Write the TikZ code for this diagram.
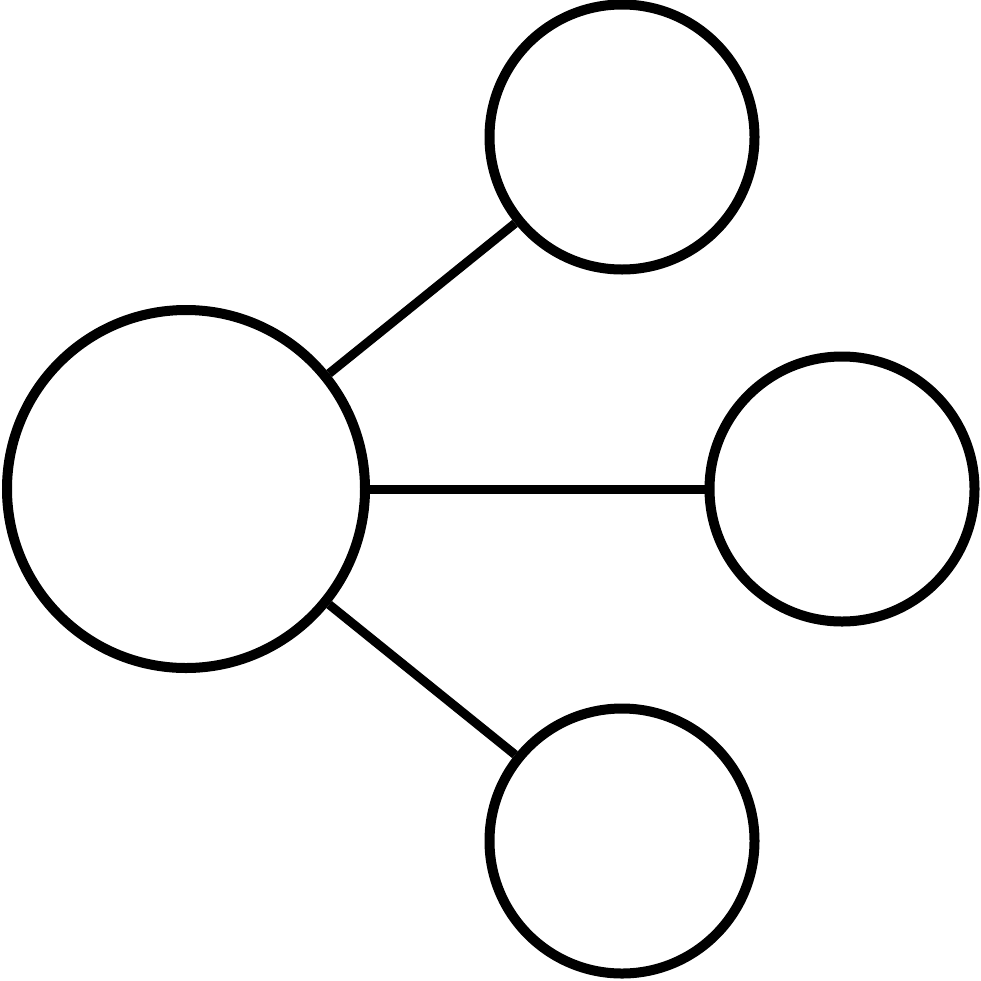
\documentclass[tikz,border=0pt]{standalone}
\begin{document}
\begin{tikzpicture}[x=1pt,y=-1pt,
  hub/.style={circle,draw=black,line width=10pt,inner sep=0pt,minimum size=358pt},
  leaf/.style={circle,draw=black,line width=10pt,inner sep=0pt,minimum size=265pt},
  link/.style={draw=black,line width=9pt}]
\useasboundingbox (0,0) rectangle (981,980);
\node[hub] (c) at (186,489) {};
\node[leaf] (t) at (622,137) {};
\node[leaf] (r) at (842,489) {};
\node[leaf] (b) at (622,841) {};
\draw[link] (c) -- (t);
\draw[link] (c) -- (r);
\draw[link] (c) -- (b);
\end{tikzpicture}
\end{document}
